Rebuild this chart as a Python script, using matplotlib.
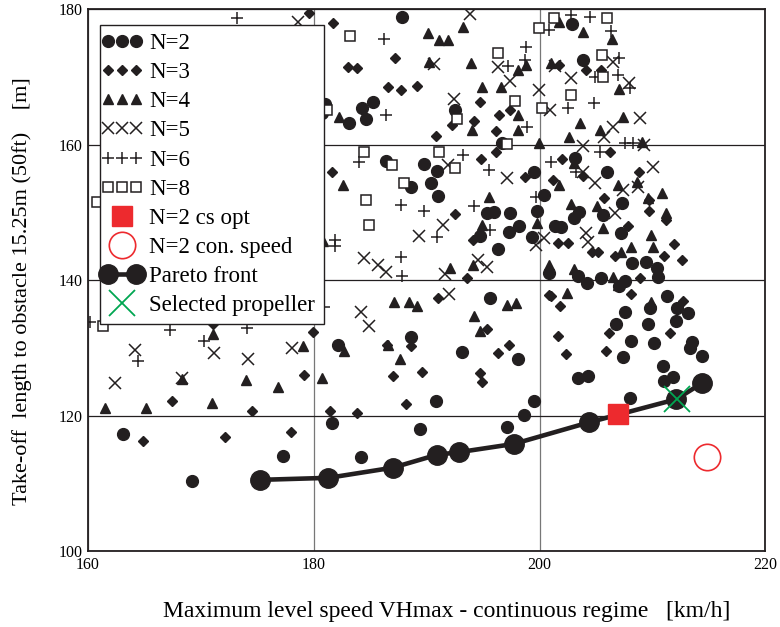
import matplotlib
matplotlib.use("Agg")
import matplotlib.pyplot as plt
from matplotlib.legend_handler import HandlerLine2D

plt.rcParams['font.family'] = ['Liberation Serif', 'DejaVu Serif']

# N=2 blades
n2_x = [187.8, 202.9, 203.8, 185.2, 184.3, 184.6, 183.1, 181.0, 180.7, 192.5,
        196.7, 186.4, 189.8, 190.9, 190.4, 188.6, 191.0, 199.5, 203.1, 206.0,
        200.4, 199.8, 195.3, 196.0, 197.4, 198.2, 197.3, 199.3, 194.7, 196.3,
        203.5, 203.0, 207.3, 205.6, 201.9, 201.4, 207.2, 200.8, 203.4, 204.2,
        205.4, 207.0, 207.6, 208.2, 209.4, 210.4, 210.5, 211.3, 209.8, 212.2,
        213.1, 207.6, 206.8, 209.6, 212.1, 208.1, 210.1, 213.5, 213.3, 214.4,
        207.4, 203.4, 204.3, 210.9, 211.0, 211.8, 208.0, 199.5, 198.6, 197.1,
        190.8, 189.4, 181.6, 184.2, 188.6, 182.1, 193.1, 198.1, 195.6, 163.1,
        169.2, 177.3]
n2_y = [178.8, 177.8, 172.5, 166.3, 165.4, 163.8, 163.2, 166.0, 164.6, 165.1,
        160.2, 157.6, 157.1, 156.1, 154.3, 153.7, 152.4, 155.9, 158.0, 155.9,
        152.5, 150.2, 149.9, 150.0, 149.9, 148.0, 147.1, 146.3, 146.5, 144.6,
        150.0, 149.2, 151.4, 149.6, 147.8, 148.0, 146.9, 141.0, 140.6, 139.6,
        140.3, 139.1, 139.9, 142.5, 142.7, 141.8, 140.4, 137.6, 135.9, 135.9,
        135.1, 135.3, 133.5, 133.5, 133.9, 131.0, 130.7, 130.8, 130.0, 128.8,
        128.6, 125.5, 125.8, 127.3, 125.1, 125.7, 122.6, 122.1, 120.1, 118.3,
        122.1, 118.0, 118.9, 113.9, 131.6, 130.4, 129.4, 128.3, 137.3, 117.3,
        110.3, 114.0]

# N=3
n3_x = [181.7, 183.0, 183.8, 187.2, 186.6, 187.7, 189.1, 194.7, 194.2, 192.2,
        190.8, 196.4, 197.4, 196.1, 196.1, 194.8, 181.6, 198.7, 201.7, 204.1,
        205.4, 202.0, 203.8, 206.2, 208.8, 201.2, 192.5, 194.1, 193.6, 191.0,
        195.3, 188.6, 186.5, 197.3, 196.3, 187.0, 189.6, 194.7, 194.9, 188.2,
        181.4, 183.8, 200.8, 205.7, 209.7, 209.7, 211.2, 207.8, 201.6, 202.5,
        204.6, 205.2, 206.7, 211.0, 211.9, 212.6, 208.9, 201.0, 201.8, 208.1,
        212.7, 206.1, 211.5, 201.6, 202.3, 205.9, 171.1, 179.9, 179.1, 167.4,
        174.5, 164.9, 172.1, 178.0, 179.6]
n3_y = [177.9, 171.4, 171.3, 172.8, 168.5, 168.0, 168.6, 166.3, 163.5, 162.9,
        161.3, 164.4, 165.1, 162.0, 158.9, 157.9, 155.9, 155.2, 171.7, 171.0,
        171.0, 157.9, 155.4, 158.9, 155.9, 154.8, 149.7, 145.9, 140.3, 137.3,
        132.8, 130.3, 130.4, 130.4, 129.2, 125.8, 126.4, 126.3, 124.9, 121.7,
        120.7, 120.4, 137.8, 152.1, 151.8, 150.2, 148.9, 148.0, 145.5, 145.5,
        144.1, 144.1, 143.5, 143.5, 145.3, 143.0, 140.3, 137.6, 136.2, 137.9,
        136.9, 132.2, 132.2, 131.7, 129.1, 129.5, 133.5, 132.3, 126.0, 122.1,
        120.7, 116.2, 116.8, 117.6, 179.4]

# N=4
n4_x = [190.1, 191.1, 191.9, 193.2, 190.2, 193.9, 194.9, 196.6, 198.1, 198.8,
        198.1, 194.0, 198.1, 182.2, 182.6, 199.9, 195.5, 201.7, 203.8, 206.4,
        201.0, 207.0, 203.6, 202.6, 205.3, 207.4, 209.1, 201.7, 203.0, 206.9,
        208.6, 210.8, 209.6, 180.8, 194.9, 199.8, 192.1, 194.1, 187.1, 188.4,
        189.1, 197.1, 197.9, 194.2, 194.7, 186.6, 182.7, 187.6, 180.7, 202.8,
        205.1, 205.6, 211.2, 209.9, 210.0, 208.1, 200.8, 203.0, 206.5, 206.9,
        202.4, 209.9, 207.2, 171.1, 168.3, 174.0, 176.8, 179.0, 161.5, 165.1,
        171.0]
n4_y = [176.5, 175.4, 175.4, 177.3, 172.2, 172.0, 168.5, 168.5, 171.0, 171.7,
        164.4, 162.1, 162.1, 164.1, 154.0, 160.2, 152.3, 178.1, 176.6, 175.6,
        172.0, 168.2, 163.2, 161.1, 162.1, 164.1, 160.4, 154.0, 157.3, 154.0,
        154.5, 152.8, 152.1, 145.8, 148.1, 148.4, 141.8, 142.2, 136.8, 136.8,
        136.2, 136.3, 136.6, 134.7, 132.5, 130.4, 129.5, 128.3, 125.5, 151.2,
        150.9, 147.7, 149.9, 146.6, 144.9, 144.9, 142.2, 141.6, 140.4, 139.3,
        138.1, 136.8, 144.1, 132.0, 125.4, 125.2, 124.2, 130.3, 121.1, 121.1,
        121.8]

# N=5
n5_x = [193.8, 178.6, 190.6, 196.3, 197.4, 192.4, 191.9, 197.1, 199.9, 201.4,
        202.8, 206.5, 207.9, 200.9, 208.9, 206.5, 205.7, 203.8, 203.8, 204.9,
        207.4, 208.7, 210.0, 209.2, 189.3, 191.4, 184.4, 185.7, 186.4, 191.6,
        194.5, 195.3, 192.0, 184.2, 184.9, 199.7, 200.4, 206.7, 204.1, 204.3,
        164.2, 162.4, 168.3, 171.2, 174.2, 178.1]
n5_y = [179.3, 178.1, 171.9, 171.4, 169.4, 166.7, 157.0, 155.1, 168.0, 171.6,
        169.8, 172.2, 169.1, 165.1, 163.9, 162.6, 161.1, 159.8, 155.9, 154.3,
        153.3, 153.7, 156.7, 159.9, 146.5, 148.1, 143.2, 142.2, 141.2, 140.9,
        143.0, 141.9, 137.9, 135.3, 133.2, 145.2, 146.2, 149.9, 146.9, 145.6,
        129.7, 124.8, 125.5, 129.2, 128.3, 130.0]

# N=6
n6_x = [173.2, 186.2, 186.4, 197.2, 198.8, 198.7, 193.2, 195.5, 198.9, 184.0,
        200.8, 204.5, 206.3, 207.0, 204.9, 206.9, 208.0, 202.5, 204.8, 207.6,
        208.3, 205.3, 201.0, 203.2, 181.9, 181.9, 187.7, 189.8, 194.2, 190.9,
        187.7, 187.8, 195.6, 199.7, 180.9, 167.3, 170.3, 164.4, 174.1, 160.2,
        202.8]
n6_y = [178.7, 175.6, 164.4, 171.6, 174.4, 172.5, 158.5, 156.2, 162.6, 157.4,
        176.9, 178.8, 176.8, 172.8, 170.0, 170.3, 168.3, 165.4, 166.1, 160.2,
        160.2, 158.9, 157.4, 155.9, 145.9, 145.0, 151.1, 150.2, 150.9, 146.3,
        143.4, 140.6, 147.4, 152.3, 136.0, 132.6, 131.0, 128.0, 132.9, 133.8,
        179.1]

# N=8
n8_x = [183.2, 196.3, 197.8, 192.7, 199.9, 181.2, 200.2, 184.4, 186.9, 191.1,
        192.5, 197.1, 188.0, 184.6, 201.3, 206.0, 205.5, 205.6, 202.8, 184.9,
        160.8, 161.3]
n8_y = [176.0, 173.5, 166.4, 163.8, 177.2, 165.1, 165.4, 158.9, 157.0, 158.9,
        156.5, 160.1, 154.3, 151.8, 178.7, 178.7, 173.2, 170.0, 167.3, 148.1,
        151.5, 133.2]

# Pareto front
pareto_x = [175.2, 181.3, 187.0, 190.9, 192.9, 197.7, 204.4, 212.1, 214.4]
pareto_y = [110.5, 110.8, 112.3, 114.2, 114.6, 115.8, 119.0, 122.4, 124.8]

cs_opt_x, cs_opt_y = [206.9], [120.2]
con_speed_x, con_speed_y = [214.8], [113.9]
selected_x, selected_y = [212.2], [122.4]

fig = plt.figure(figsize=(7.8, 6.27), dpi=100)
ax = fig.add_axes([0.1128, 0.1212, 0.8686, 0.8644])

k = '#231f20'
h2, = ax.plot(n2_x, n2_y, 'o', color=k, ms=8.5, ls='none', label='N=2')
h3, = ax.plot(n3_x, n3_y, 'D', color=k, ms=5, ls='none', label='N=3')
h4, = ax.plot(n4_x, n4_y, '^', color=k, ms=7.5, ls='none', label='N=4')
h5, = ax.plot(n5_x, n5_y, 'x', color=k, ms=9, mew=1.1, ls='none', label='N=5')
h6, = ax.plot(n6_x, n6_y, '+', color=k, ms=9, mew=1.1, ls='none', label='N=6')
h8, = ax.plot(n8_x, n8_y, 's', mfc='white', mec=k, ms=7.5, mew=1.1, ls='none', label='N=8')
hcs, = ax.plot(cs_opt_x, cs_opt_y, 's', color='#ed2a2e', ms=14, ls='none',
               label='N=2 cs opt', zorder=5)
hcon, = ax.plot(con_speed_x, con_speed_y, 'o', mfc='white', mec='#ed2a2e', ms=19,
                mew=1.2, ls='none', label='N=2 con. speed', zorder=5)
hpar, = ax.plot(pareto_x, pareto_y, 'o-', color=k, ms=14, lw=3.3, label='Pareto front', zorder=4)
hsel, = ax.plot(selected_x, selected_y, 'x', color='#00a651', ms=19, mew=1.3, ls='none',
                label='Selected propeller', zorder=6)

ax.set_xlim(160, 220)
ax.set_ylim(100, 180)
ax.set_xticks([160, 180, 200, 220])
ax.set_yticks([100, 120, 140, 160, 180])
ax.tick_params(length=0, labelsize=11.5, pad=4)
ax.grid(True, axis='x', color='#777777', lw=0.9)
ax.grid(True, axis='y', color='#231f20', lw=0.9)
ax.set_axisbelow(True)
for s in ax.spines.values():
    s.set_linewidth(1.3)
    s.set_color(k)

ax.set_xlabel('Maximum level speed VHmax - continuous regime   [km/h]', fontsize=17)
ax.xaxis.set_label_coords(0.53, -0.093)
ax.set_ylabel('Take-off  length to obstacle 15.25m (50ft)    [m]', fontsize=16)
ax.yaxis.set_label_coords(-0.083, 0.48)

three = HandlerLine2D(numpoints=3, marker_pad=0)
one = HandlerLine2D(numpoints=1, marker_pad=0)
two = HandlerLine2D(numpoints=2, marker_pad=0)
leg = ax.legend(handles=[h2, h3, h4, h5, h6, h8, hcs, hcon, hpar, hsel],
                loc='upper left', bbox_to_anchor=(0.0177, 0.9705),
                handler_map={h2: three, h3: three, h4: three, h5: three, h6: three, h8: three,
                             hcs: one, hcon: one, hsel: one, hpar: two},
                fontsize=16.5, fancybox=False, framealpha=1, edgecolor=k,
                handlelength=1.2, handletextpad=0.6, labelspacing=0.35,
                borderpad=0.36, borderaxespad=0)
leg.get_frame().set_linewidth(1.0)
leg.set_zorder(10)

fig.savefig('out.png', dpi=100)
